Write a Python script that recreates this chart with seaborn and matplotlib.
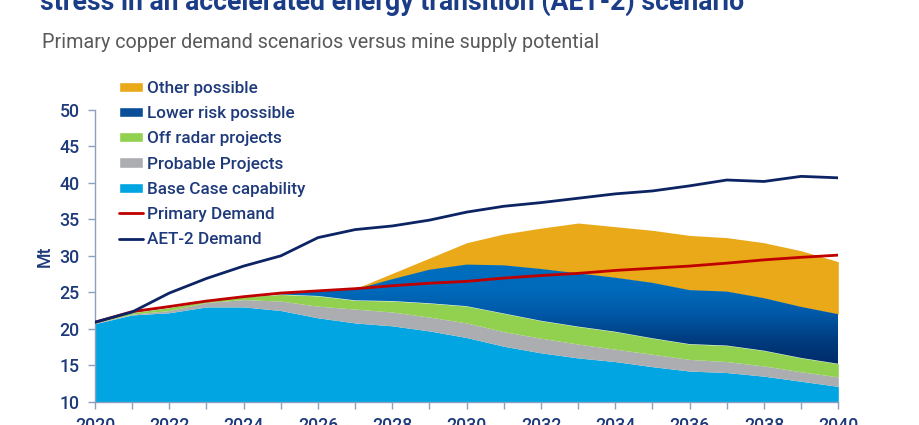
import numpy as np
import pandas as pd
import seaborn as sns
import matplotlib.pyplot as plt
from matplotlib.colors import LinearSegmentedColormap
from matplotlib.patches import Patch
from matplotlib.lines import Line2D
from matplotlib.ticker import MultipleLocator

years = list(range(2020, 2041))

# supply layers (Mt), bottom to top
base_case = [20.7, 21.9, 22.2, 23.0, 23.0, 22.5, 21.5, 20.8, 20.4, 19.7, 18.8,
             17.6, 16.7, 16.0, 15.5, 14.8, 14.2, 14.0, 13.5, 12.8, 12.1]
probable = [0.1, 0.1, 0.3, 0.6, 1.0, 1.3, 1.6, 1.9, 1.9, 1.9, 2.0,
            2.0, 2.0, 1.9, 1.7, 1.7, 1.6, 1.5, 1.4, 1.3, 1.3]
off_radar = [0.1, 0.2, 0.4, 0.2, 0.4, 0.9, 1.4, 1.2, 1.5, 1.9, 2.3,
             2.5, 2.4, 2.4, 2.4, 2.2, 2.1, 2.2, 2.1, 1.9, 1.8]
lower_risk = [0.0, 0.1, 0.1, 0.0, 0.0, 0.2, 0.6, 1.5, 3.0, 4.6, 5.7,
              6.6, 7.1, 7.3, 7.4, 7.6, 7.4, 7.4, 7.2, 7.0, 6.8]
other_possible = [0.0, 0.0, 0.0, 0.0, 0.0, 0.0, 0.1, 0.1, 0.8, 1.6, 3.0,
                  4.3, 5.6, 6.9, 7.0, 7.2, 7.5, 7.4, 7.6, 7.7, 7.2]

# demand lines (Mt)
primary_demand = [20.9, 22.35, 23.05, 23.8, 24.4, 24.9, 25.2, 25.5, 25.9, 26.25, 26.5,
                  26.95, 27.3, 27.6, 28.0, 28.3, 28.6, 29.0, 29.45, 29.8, 30.1]
aet2_demand = [20.9, 22.3, 24.9, 26.9, 28.6, 30.0, 32.5, 33.6, 34.1, 34.9, 36.0,
               36.8, 37.3, 37.9, 38.5, 38.9, 39.6, 40.4, 40.2, 40.9, 40.7]

NAVY_TXT = "#1F3A7A"
AXIS_COL = "#8EA0BF"
C_BASE = "#00A5E2"
C_PROB = "#ABADB1"
C_OFF = "#92D050"
C_OTHER = "#E9A918"
C_RED = "#C00000"
C_AET = "#0C2464"

sns.set_style("white")
plt.rcParams["font.family"] = ["Roboto", "DejaVu Sans"]

df = pd.DataFrame({"year": years, "base": base_case, "prob": probable, "off": off_radar,
                   "low": lower_risk, "other": other_possible,
                   "primary": primary_demand, "aet2": aet2_demand})
df["t_base"] = df["base"]
df["t_prob"] = df["t_base"] + df["prob"]
df["t_off"] = df["t_prob"] + df["off"]
df["t_low"] = df["t_off"] + df["low"]
df["t_other"] = df["t_low"] + df["other"]

fig = plt.figure(figsize=(9.2, 4.25), dpi=100)
ax = fig.add_axes([95 / 920, 1 - 401.7 / 425, (838.3 - 95) / 920, (401.7 - 110) / 425])

x = df["year"]
ax.fill_between(x, 0, df["t_base"], color=C_BASE, lw=0, zorder=1)
ax.fill_between(x, df["t_base"], df["t_prob"], color=C_PROB, lw=0, zorder=1)
ax.fill_between(x, df["t_prob"], df["t_off"], color=C_OFF, lw=0, zorder=1)
low_poly = ax.fill_between(x, df["t_off"], df["t_low"], color="none", lw=0, zorder=1)
ax.fill_between(x, df["t_low"], df["t_other"], color=C_OTHER, lw=0, zorder=1)

# vertical gradient for "Lower risk possible"
grad_cmap = LinearSegmentedColormap.from_list(
    "lowrisk", ["#002A69", "#003D80", "#0059A8", "#006BBB", "#006EBF"])
grad = np.linspace(0, 1, 256).reshape(-1, 1)
img = ax.imshow(grad, extent=[2020, 2040, 15, 29], origin="lower", aspect="auto",
                cmap=grad_cmap, zorder=1.5, interpolation="bicubic")
img.set_clip_path(low_poly.get_paths()[0], transform=ax.transData)

sns.lineplot(data=df, x="year", y="primary", color=C_RED, lw=2.0, ax=ax, zorder=3)
sns.lineplot(data=df, x="year", y="aet2", color=C_AET, lw=2.0, ax=ax, zorder=3)

ax.set_xlim(2020, 2040)
ax.set_ylim(10, 50)
ax.xaxis.set_major_locator(MultipleLocator(2))
ax.xaxis.set_minor_locator(MultipleLocator(1))
ax.yaxis.set_major_locator(MultipleLocator(5))
ax.set_xlabel("")
ax.set_ylabel("")

for s in ["top", "right"]:
    ax.spines[s].set_visible(False)
for s in ["left", "bottom"]:
    ax.spines[s].set_color(AXIS_COL)
    ax.spines[s].set_linewidth(1.0)

ax.tick_params(axis="both", which="both", direction="out", length=5, width=1.0,
               color=AXIS_COL, labelcolor=NAVY_TXT, labelsize=12.8)
ax.tick_params(axis="x", which="both", bottom=True, pad=6)
ax.tick_params(axis="y", left=True, pad=6)
for lbl in ax.get_xticklabels() + ax.get_yticklabels():
    lbl.set_fontweight("medium")

fig.text(45 / 920, 1 - 256 / 425, "Mt", rotation=90, ha="center", va="center",
         color=NAVY_TXT, fontsize=12.8, fontweight="medium")

handles = [
    Patch(facecolor=C_OTHER, label="Other possible"),
    Patch(facecolor="#0A4E9A", label="Lower risk possible"),
    Patch(facecolor=C_OFF, label="Off radar projects"),
    Patch(facecolor=C_PROB, label="Probable Projects"),
    Patch(facecolor=C_BASE, label="Base Case capability"),
    Line2D([], [], color=C_RED, lw=2.0, label="Primary Demand"),
    Line2D([], [], color=C_AET, lw=2.0, label="AET-2 Demand"),
]
leg = fig.legend(handles=handles, loc="upper left", bbox_to_anchor=(112 / 920, 1 - 74 / 425),
                 frameon=False, fontsize=12.3, handlelength=1.42, handleheight=0.55,
                 handletextpad=0.25, labelspacing=0.6, borderaxespad=0)
for t in leg.get_texts():
    t.set_color(NAVY_TXT)
    t.set_fontweight("medium")

fig.text(40 / 920, 1 - 10 / 425, "stress in an accelerated energy transition (AET-2) scenario",
         ha="left", va="baseline", fontsize=19.2, fontweight="bold", color="#1B3C87")
fig.text(42 / 920, 1 - 43 / 425, "Primary copper demand scenarios versus mine supply potential",
         ha="left", va="center", fontsize=14.2, color="#595959")

fig.savefig("out.png", dpi=100)
